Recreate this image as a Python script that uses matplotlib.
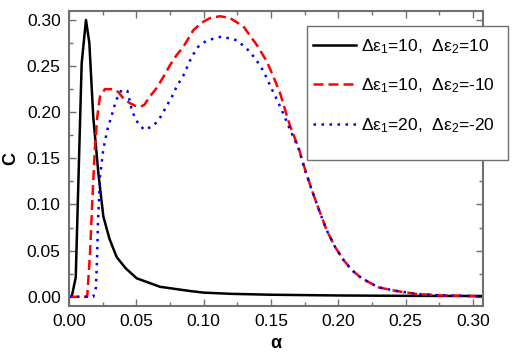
import matplotlib
matplotlib.use('Agg')
import matplotlib.pyplot as plt
from matplotlib.ticker import MultipleLocator
from matplotlib.patches import Rectangle

plt.rcParams['font.family'] = ['Liberation Sans', 'DejaVu Sans']
plt.rcParams['mathtext.fontset'] = 'custom'
plt.rcParams['mathtext.rm'] = 'Liberation Sans'
plt.rcParams['mathtext.it'] = 'Liberation Sans'

# black: de1=10, de2=10
alpha_k = [0, 0.002, 0.005, 0.0094, 0.0126, 0.0151, 0.018, 0.0218, 0.0255, 0.030,
           0.0354, 0.042, 0.0503, 0.0676, 0.09, 0.10, 0.12, 0.15, 0.20, 0.25, 0.3075]
c_k = [0, 0, 0.021, 0.253, 0.300, 0.275, 0.195, 0.134, 0.087, 0.063,
       0.043, 0.031, 0.020, 0.0108, 0.0062, 0.0045, 0.0032, 0.0022, 0.0014, 0.0010, 0.0008]

# red: de1=10, de2=-10
alpha_r = [0, 0.0135, 0.0156, 0.0175, 0.0193, 0.021, 0.023, 0.0267, 0.033, 0.0365,
           0.0404, 0.045, 0.049, 0.053, 0.056, 0.060, 0.065, 0.070, 0.075, 0.080,
           0.085, 0.0924, 0.0985, 0.1048, 0.1122, 0.1196, 0.1295, 0.1394, 0.1469, 0.1518,
           0.1568, 0.1605, 0.1642, 0.1704, 0.1753, 0.1803, 0.1852, 0.1914, 0.1976, 0.2038,
           0.21, 0.2174, 0.2298, 0.2434, 0.2583, 0.2756, 0.3075]
c_r = [0, 0, 0.047, 0.11, 0.163, 0.195, 0.217, 0.225, 0.225, 0.222,
       0.215, 0.210, 0.207, 0.206, 0.208, 0.217, 0.226, 0.238, 0.251, 0.262,
       0.271, 0.289, 0.297, 0.302, 0.304, 0.302, 0.293, 0.273, 0.255, 0.2386,
       0.2206, 0.2025, 0.185, 0.162, 0.138, 0.116, 0.096, 0.072, 0.054, 0.040,
       0.029, 0.020, 0.0102, 0.0062, 0.003, 0.0015, 0.0005]

# blue: de1=20, de2=-20
alpha_b = [0, 0.018, 0.0200, 0.0208, 0.0215, 0.023, 0.0255, 0.0285, 0.032, 0.035,
           0.039, 0.0434, 0.0466, 0.0498, 0.0557, 0.0627, 0.068, 0.0726, 0.0765, 0.080,
           0.085, 0.0911, 0.096, 0.1023, 0.1134, 0.1246, 0.132, 0.1382, 0.1431, 0.1469,
           0.1506, 0.1543, 0.1575, 0.1642, 0.1704, 0.1753, 0.1803, 0.1852, 0.1914, 0.1976,
           0.2038, 0.21, 0.2174, 0.2298, 0.2434, 0.2583, 0.2756, 0.3075]
c_b = [0, 0, 0.010, 0.040, 0.080, 0.130, 0.160, 0.181, 0.198, 0.213,
       0.224, 0.223, 0.2025, 0.191, 0.181, 0.185, 0.195, 0.207, 0.217, 0.228,
       0.240, 0.260, 0.271, 0.2777, 0.282, 0.278, 0.269, 0.2585, 0.2477, 0.237,
       0.225, 0.214, 0.204, 0.181, 0.161, 0.137, 0.1157, 0.0959, 0.072, 0.054,
       0.040, 0.029, 0.020, 0.0102, 0.0062, 0.003, 0.0015, 0.0005]

labels = ['Δε$_1$=10,  Δε$_2$=10', 'Δε$_1$=10,  Δε$_2$=-10', 'Δε$_1$=20,  Δε$_2$=-20']

fig = plt.figure(figsize=(5.24, 3.54), dpi=100)
ax = fig.add_axes([0.1317, 0.1356, 0.7901, 0.8342])

ax.plot(alpha_k, c_k, color='black', lw=1.8, label=labels[0])
ax.plot(alpha_r, c_r, color='red', lw=1.8, dashes=(4, 2), label=labels[1])
ax.plot(alpha_b, c_b, color='blue', lw=1.8, dashes=(1, 2.2), label=labels[2])

ax.set_xlim(0, 0.3075)
ax.set_ylim(-0.01, 0.31)
ax.xaxis.set_major_locator(MultipleLocator(0.05))
ax.xaxis.set_minor_locator(MultipleLocator(0.025))
ax.yaxis.set_major_locator(MultipleLocator(0.05))
ax.yaxis.set_minor_locator(MultipleLocator(0.025))
ax.xaxis.set_major_formatter(lambda v, p: f'{v:.2f}')
ax.yaxis.set_major_formatter(lambda v, p: f'{v:.2f}')
ax.tick_params(which='both', direction='in', top=True, right=True, color='#707070', labelsize=12.5)
ax.tick_params(which='major', length=5, width=1, pad=6)
ax.tick_params(which='minor', length=3, width=1)
for s in ax.spines.values():
    s.set_color('#707070')
    s.set_linewidth(1.5)

ax.set_xlabel('α', fontsize=13, fontweight='bold', labelpad=4)
ax.set_ylabel('C', fontsize=13, fontweight='bold', labelpad=5)

# legend box (drawn separately, it runs past the right spine)
box = Rectangle((0.5859, 0.548), 0.3836, 0.3785, transform=fig.transFigure,
                facecolor='white', edgecolor='#707070', lw=1.0, clip_on=False, zorder=4.5)
ax.add_patch(box)

leg = ax.legend(loc='upper left', bbox_to_anchor=(0.597, 0.896), bbox_transform=fig.transFigure,
                borderaxespad=0, borderpad=0, frameon=False, fontsize=12.5, handlelength=2.5,
                labelspacing=1.2, handletextpad=0.3)

fig.savefig('out.png', dpi=100)
